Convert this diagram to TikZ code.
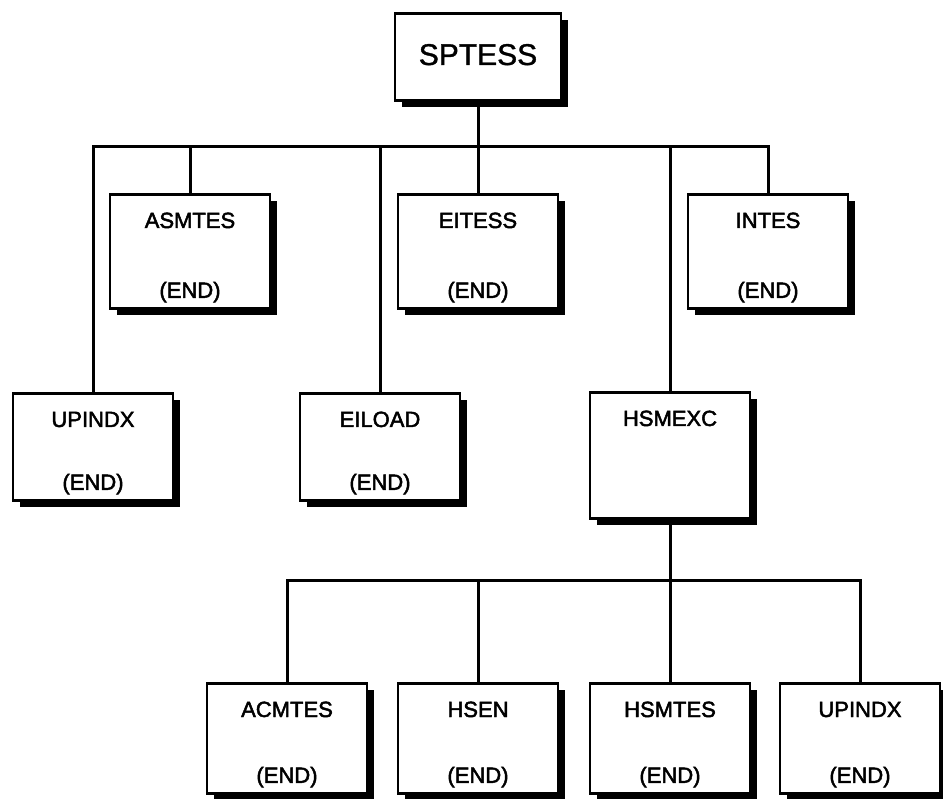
\documentclass[tikz,border=0pt]{standalone}
\usepackage{fontspec}
\setmainfont{Liberation Sans}
\newfontfamily\heavysans{Liberation Sans}[FakeBold=2.2]
\newfontfamily\rootsans{Liberation Sans}[FakeBold=1.2]
\usetikzlibrary{shadows}

\begin{document}
\begin{tikzpicture}[x=1pt,y=-1pt,
  box/.style={draw, line width=2.8pt, fill=white, anchor=north,
    minimum width=160pt, minimum height=112pt, inner sep=0pt,
    drop shadow={shadow xshift=7pt, shadow yshift=-7pt, fill=black, opacity=1}},
  wire/.style={line width=3pt},
  boxname/.style={font=\heavysans\fontsize{22}{22}\selectfont, anchor=base, inner sep=0pt},
  endtag/.style={font=\heavysans\fontsize{22}{22}\selectfont, anchor=base, inner sep=0pt}
]
\useasboundingbox (0,0) rectangle (943,799);

% root
\node[box, minimum width=166pt, minimum height=87pt] (sptess) at (478,12) {};
\node[font=\rootsans\fontsize{30}{30}\selectfont, anchor=base, inner sep=0pt] (sptessT) at ([yshift=-53pt]sptess.north) {SPTESS};

% first level
\node[box, minimum height=114pt] (asmtes) at (190,193) {};
\node[box, minimum height=114pt] (eitess) at (478,193) {};
\node[box, minimum height=114pt] (intes)  at (768,193) {};
\node[box, minimum height=107pt] (upindxA) at (93,392) {};
\node[box, minimum height=107pt] (eiload)  at (380,392) {};
\node[box, minimum height=126pt] (hsmexc)  at (670,391) {};

% second level
\node[box, minimum height=110pt] (acmtes)  at (287,682) {};
\node[box, minimum height=110pt] (hsen)    at (478,682) {};
\node[box, minimum height=110pt] (hsmtes)  at (670,682) {};
\node[box, minimum height=110pt] (upindxB) at (860,682) {};

% labels
\foreach \b/\t in {asmtes/ASMTES, eitess/EITESS, intes/INTES, upindxA/UPINDX,
                   eiload/EILOAD, hsmexc/HSMEXC, acmtes/ACMTES, hsen/HSEN,
                   hsmtes/HSMTES, upindxB/UPINDX}
  \node[boxname] (\b-name) at ([yshift=-35pt]\b.north) {\t};
\foreach \b in {asmtes, eitess, intes, upindxA, eiload, acmtes, hsen, hsmtes, upindxB}
  \node[endtag] (\b-end) at ([yshift=12pt]\b.south) {(END)};

% bus lines
\coordinate (busA) at (478,147);
\coordinate (busB) at (670,580);
\draw[wire] (sptess.south) -- (busA);
\draw[wire] (upindxA.north) |- (busA);
\draw[wire] (intes.north) |- (busA);
\foreach \b in {asmtes, eitess, eiload, hsmexc}
  \draw[wire] (\b.north) -- (\b.north |- busA);
\draw[wire] (hsmexc.south) -- (busB);
\draw[wire] (acmtes.north) |- (busB);
\draw[wire] (upindxB.north) |- (busB);
\foreach \b in {hsen, hsmtes}
  \draw[wire] (\b.north) -- (\b.north |- busB);
\end{tikzpicture}
\end{document}
